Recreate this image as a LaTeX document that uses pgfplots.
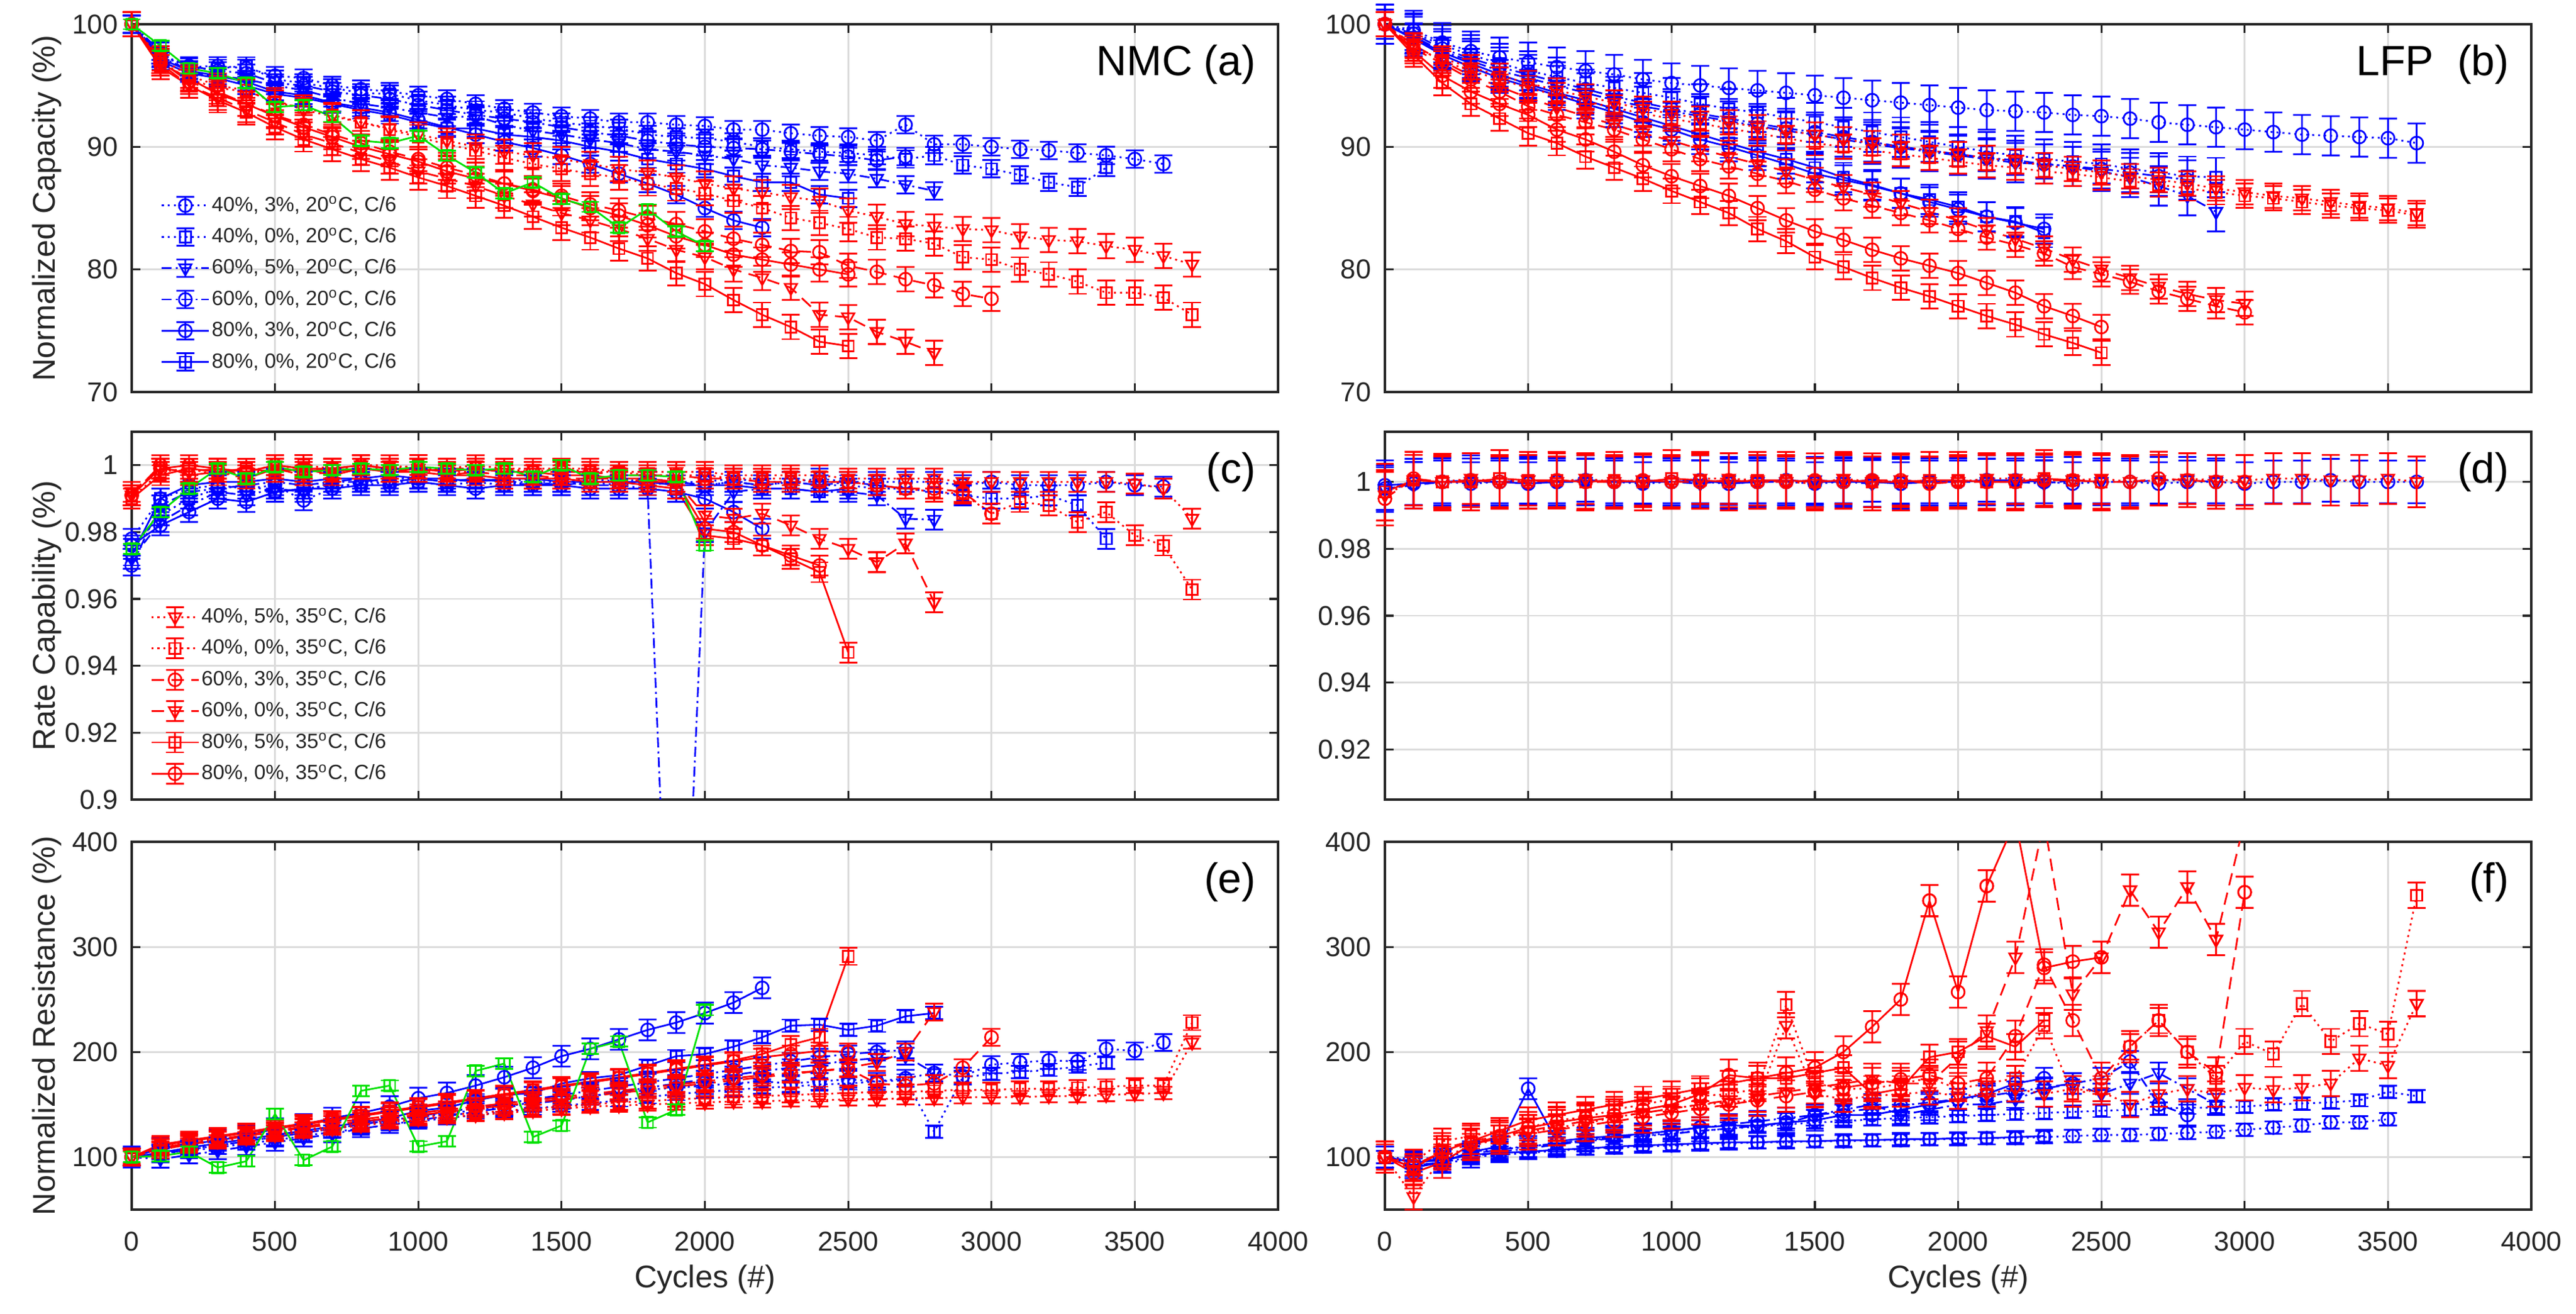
\documentclass[border=0pt]{standalone}
\usepackage{fontspec}
\setmainfont{Liberation Sans}
\usepackage{pgfplots}
\usepackage{pgfplotstable}
\pgfplotsset{compat=1.18}
\definecolor{axgray}{RGB}{38,38,38}
\definecolor{mgreen}{RGB}{0,225,0}

\def\ebh{3pt}
\def\ebw{3.6pt}
\tikzset{ebh/.code={\def\ebh{#1}}}
\def\ibar{%
  \pgfpathmoveto{\pgfqpoint{0pt}{-\ebh}}\pgfpathlineto{\pgfqpoint{0pt}{\ebh}}%
  \pgfpathmoveto{\pgfqpoint{-\ebw}{-\ebh}}\pgfpathlineto{\pgfqpoint{\ebw}{-\ebh}}%
  \pgfpathmoveto{\pgfqpoint{-\ebw}{\ebh}}\pgfpathlineto{\pgfqpoint{\ebw}{\ebh}}}
\pgfdeclareplotmark{Io}{\pgfpathcircle{\pgfpointorigin}{\pgfplotmarksize}\ibar\pgfusepathqstroke}
\pgfdeclareplotmark{Is}{\pgfpathrectangle{\pgfqpoint{-0.85\pgfplotmarksize}{-0.85\pgfplotmarksize}}{\pgfqpoint{1.7\pgfplotmarksize}{1.7\pgfplotmarksize}}\ibar\pgfusepathqstroke}
\pgfdeclareplotmark{Iv}{\pgfpathmoveto{\pgfqpoint{0pt}{-1.1\pgfplotmarksize}}\pgfpathlineto{\pgfqpoint{0.95\pgfplotmarksize}{0.6\pgfplotmarksize}}\pgfpathlineto{\pgfqpoint{-0.95\pgfplotmarksize}{0.6\pgfplotmarksize}}\pgfpathclose\ibar\pgfusepathqstroke}

\pgfplotstableread{
x b1 b2 b3 b4 b5 b6 r1 r2 r3 r4 r5 r6 g
0 100 100 100 100 100 100 100 100 100 100 100 100 100
100 97.5 97.3 97.8 97.5 97.2 97.0 97.0 97.2 97.0 96.8 96.5 96.8 98.25
200 96.5 96.3 96.0 96.6 96.2 96.0 95.5 95.8 95.3 95.0 95.0 95.6 96.4
300 96.6 96.4 95.8 96.2 95.8 95.6 94.8 95.0 94.5 94.0 93.8 94.3 96.0
400 96.4 96.6 95.5 96.0 95.3 95.0 94.5 94.6 93.5 93.0 92.8 93.5 95.2
500 95.8 95.5 95.0 95.2 94.5 94.3 93.8 93.6 92.6 92.0 91.6 92.5 93.25
600 95.6 95.2 94.6 95.0 94.2 94.0 93.0 93.2 91.8 91.0 90.6 91.6 93.4
700 95.0 94.8 94.0 94.5 93.6 93.5 92.5 92.6 91.0 90.3 89.8 90.8 92.45
800 94.7 94.4 93.5 94.2 93.2 93.0 92.0 92.0 90.3 89.5 89.0 90.0 90.5
900 94.5 94.3 93.2 93.9 92.8 92.6 91.5 91.4 89.6 88.8 88.3 89.4 90.3
1000 94.2 93.8 92.8 93.4 92.2 92.0 91.0 90.8 89.0 88.0 87.5 88.8 90.9
1100 93.9 93.4 92.4 93.0 91.6 91.5 90.5 90.2 88.3 87.4 86.8 88.0 89.3
1200 93.5 93.0 92.5 92.6 91.0 91.5 90.0 89.7 87.7 86.8 86.0 87.4 87.9
1300 93.1 92.8 91.8 92.3 90.4 91.0 89.6 89.1 87.0 86.0 85.2 87.0 86.2
1400 92.8 92.3 91.3 92.0 89.9 90.8 89.3 88.6 86.5 85.3 84.3 86.4 87.1
1500 92.5 92.0 91.0 91.6 89.3 90.5 89.0 88.2 86.0 84.6 83.4 85.8 85.75
1600 92.3 91.7 90.6 91.2 88.6 90.0 88.6 87.8 85.3 84.0 82.6 85.0 85.1
1700 92.0 91.5 90.3 90.9 87.8 89.6 88.2 87.5 84.8 83.3 81.7 84.4 83.4
1800 92.0 91.0 89.8 90.5 87.0 89.0 87.9 87.0 84.2 82.5 80.9 83.6 84.9
1900 91.8 90.8 89.6 90.2 86.1 88.6 87.5 86.6 83.7 81.6 79.7 82.7 83.1
2000 91.7 90.7 89.3 90.0 85.0 88.2 87.0 86.2 83.1 81.0 78.8 82.0 81.9
2100 91.4 90.4 89.0 89.9 84.0 87.6 86.6 85.6 82.5 80.0 77.5 81.2 nan
2200 91.4 90.0 88.5 89.8 83.4 87.1 86.3 85.0 82.0 79.3 76.3 80.8 nan
2300 91.1 89.8 88.3 89.6 nan 87.1 85.9 84.2 81.5 78.5 75.3 80.4 nan
2400 90.9 89.6 88.0 89.4 nan 86.1 85.6 83.8 81.4 76.3 74.1 80.0 nan
2500 90.8 89.5 87.8 89.2 nan 85.8 84.8 83.3 80.3 76.1 73.75 79.6 nan
2600 90.5 89.3 87.4 88.9 nan nan 84.3 82.6 79.8 74.9 nan nan nan
2700 91.8 89.0 86.9 89.2 nan nan 83.7 82.5 79.2 74.1 nan nan nan
2800 90.2 89.3 86.4 nan nan nan 83.5 82.1 78.7 73.2 nan nan nan
2900 90.2 88.5 nan nan nan nan 83.3 81.0 78.0 nan nan nan nan
3000 90.0 88.2 nan nan nan nan 83.2 80.8 77.6 nan nan nan nan
3100 89.8 87.7 nan nan nan nan 82.7 80.0 nan nan nan nan nan
3200 89.7 87.1 nan nan nan nan 82.4 79.6 nan nan nan nan nan
3300 89.5 86.7 nan nan nan nan 82.3 79.0 nan nan nan nan nan
3400 89.3 88.3 nan nan nan nan 81.9 78.1 nan nan nan nan nan
3500 89.0 nan nan nan nan nan 81.6 78.1 nan nan nan nan nan
3600 88.6 nan nan nan nan nan 81.1 77.7 nan nan nan nan nan
3700 nan nan nan nan nan nan 80.4 76.3 nan nan nan nan nan
}\tblA

\pgfplotstableread{
x b1 b2 b3 b4 b5 b6 r1 r2 r3 r4 r5 r6
0 100 100 100 100 100 100 100 100 100 100 100 100
100 99.5 99.3 99.0 99.2 98.8 98.9 98.0 98.2 98.0 98.3 97.5 97.8
200 98.5 98.3 97.8 98.0 97.5 97.7 97.2 97.0 96.8 97.0 95.2 95.8
300 97.8 97.5 97.0 97.2 96.5 96.8 96.5 96.2 95.5 95.8 93.5 94.5
400 97.3 96.8 96.2 96.5 95.6 95.9 95.8 95.5 94.5 94.9 92.3 93.5
500 96.9 96.2 95.6 95.9 94.9 95.1 95.2 94.8 93.3 94.0 91.1 92.6
600 96.5 95.7 95.0 95.3 94.2 94.4 94.6 94.2 92.6 93.2 90.3 91.4
700 96.2 95.2 94.4 94.7 93.5 93.8 94.1 93.7 92.0 92.5 89.2 90.6
800 95.9 94.8 93.8 94.1 92.8 93.1 93.6 93.2 91.4 91.8 88.3 89.6
900 95.5 94.4 93.3 93.6 92.0 92.4 93.1 92.7 90.6 91.1 87.4 88.5
1000 95.2 94.0 92.9 93.1 91.4 91.7 92.7 92.3 89.8 90.5 86.4 87.6
1100 95.0 93.5 92.5 92.7 90.6 91.0 92.3 91.9 89.0 89.8 85.5 86.8
1200 94.8 93.1 92.1 92.3 90.0 90.3 92.0 91.5 88.4 89.2 84.6 86.0
1300 94.6 92.8 91.7 91.9 89.3 89.6 91.6 91.1 87.8 88.6 83.3 85.0
1400 94.4 92.4 91.3 91.5 88.6 89.0 91.3 90.7 87.2 88.0 82.3 84.0
1500 94.2 92.0 91.0 91.2 87.8 88.3 91.0 90.3 86.5 87.3 81.0 83.1
1600 94.0 91.6 90.6 90.8 87.3 87.5 90.6 90.0 85.8 86.7 80.2 82.4
1700 93.8 91.2 90.2 90.4 86.8 86.9 90.3 89.7 85.2 86.1 79.3 81.6
1800 93.6 90.8 89.9 90.0 86.2 86.2 90.0 89.4 84.6 85.4 78.5 80.9
1900 93.4 90.4 89.6 89.7 85.5 85.7 89.7 89.1 84.0 84.7 77.8 80.3
2000 93.2 90.0 89.3 89.4 84.9 85.1 89.4 88.8 83.3 84.0 77.0 79.7
2100 93.0 89.6 89.0 89.1 84.3 84.3 89.1 88.5 82.6 83.2 76.2 78.9
2200 92.9 89.3 88.7 88.9 83.8 83.9 88.8 88.3 82.0 82.5 75.5 78.1
2300 92.8 89.0 88.6 88.6 83.3 83.0 88.5 88.0 81.3 81.7 74.7 77.0
2400 92.6 88.8 88.4 88.4 nan nan 88.2 87.8 80.2 80.8 74.0 76.2
2500 92.5 88.6 88.0 88.2 nan nan 87.9 87.5 79.6 80.0 73.2 75.3
2600 92.3 88.2 87.5 87.9 nan nan 87.6 87.2 79.0 79.3 nan nan
2700 92.0 87.9 86.8 87.6 nan nan 87.3 86.9 78.2 78.6 nan nan
2800 91.8 87.6 86.0 87.3 nan nan 87.0 86.6 77.6 78.0 nan nan
2900 91.6 87.5 84.7 nan nan nan 86.6 86.3 77.0 77.5 nan nan
3000 91.4 nan nan nan nan nan 86.3 86.0 76.5 77.2 nan nan
3100 91.2 nan nan nan nan nan 86.0 85.8 nan nan nan nan
3200 91.0 nan nan nan nan nan 85.8 85.5 nan nan nan nan
3300 90.9 nan nan nan nan nan 85.5 85.2 nan nan nan nan
3400 90.8 nan nan nan nan nan 85.2 85.0 nan nan nan nan
3500 90.7 nan nan nan nan nan 85.0 84.8 nan nan nan nan
3600 90.3 nan nan nan nan nan 84.6 84.4 nan nan nan nan
}\tblB

\pgfplotstableread{
x b1 b2 b3 b4 b5 b6 r1 r2 r3 r4 r5 r6 g
0 .978 .975 .972 .970 .976 .973 .991 .990 .991 .992 .990 .991 .975
100 .990 .985 .983 .988 .982 .990 .999 .998 1.000 .999 .997 .999 .986
200 .993 .990 .988 .992 .986 .994 .998 .999 .997 .998 .999 1.000 .993
300 .994 .993 .992 .993 .990 .995 .999 .997 .998 .999 .998 .999 .999
400 .993 .994 .991 .994 .989 .995 .998 .998 .996 .997 .999 .998 .996
500 .994 .992 .993 .995 .992 .996 1.000 .998 .999 .999 .998 1.000 .9995
600 .9895 .993 .992 .994 .993 .995 .999 1.000 .998 .997 .999 .999 .998
700 .993 .994 .995 .995 .993 .996 .999 .999 .999 .998 .997 .999 .9985
800 .995 .994 .996 .995 .994 .996 1.000 .999 1.000 .999 .999 1.000 .999
900 .995 .995 .995 .996 .994 .997 1.000 .999 .999 .998 .998 .999 .9985
1000 .996 .995 .996 .996 .995 .996 .999 1.000 .998 .999 .998 .999 .9995
1100 .995 .994 .995 .995 .994 .996 .999 .998 .999 .997 .997 .998 .999
1200 .996 .995 .996 .996 .993 .995 1.000 .998 .999 .998 .997 .999 .9985
1300 .995 .994 .995 .995 .994 .996 .999 .999 .998 .997 .996 .998 .999
1400 .996 .995 .994 .995 .994 .996 .999 .998 .998 .997 .996 .998 .9965
1500 .995 .995 .995 .994 .994 .995 .999 .999 .998 .996 .996 .997 1.000
1600 .996 .995 .994 .995 .993 .995 .999 .998 .998 .996 .995 .997 .996
1700 .995 .994 .994 .995 .993 .995 .998 .998 .997 .996 .995 .996 .997
1800 .996 .995 .993 .994 .993 .995 .998 .997 .997 .995 .994 .996 .997
1900 .995 .995 .785 .995 .992 .994 .998 .997 .997 .995 .993 .995 .9965
2000 .995 .994 .980 .994 .990 .994 .998 .997 .996 .985 .979 .981 .976
2100 .996 .995 .992 .995 .986 .994 .997 .996 .996 .984 .978 .980 nan
2200 .995 .994 .993 .994 .981 .993 .997 .996 .995 .9855 .976 .976 nan
2300 .995 .995 .993 .995 nan .993 .997 .996 .995 .982 .972 .973 nan
2400 .996 .994 .992 .994 nan .992 .997 .995 .995 .978 .968 .970 nan
2500 .995 .994 .992 .995 nan .993 .996 .995 .995 .975 .944 nan nan
2600 .995 .993 .991 .994 nan nan .996 .994 .994 .971 nan nan nan
2700 .995 .993 .984 .993 nan nan .996 .993 .993 .9766 nan nan nan
2800 .995 .992 .9837 nan nan nan .996 .992 .993 .959 nan nan nan
2900 .994 .991 nan nan nan nan .995 .9915 .992 nan nan nan nan
3000 .995 .990 nan nan nan nan .995 .9855 .9855 nan nan nan nan
3100 .994 .990 nan nan nan nan .995 .989 nan nan nan nan nan
3200 .994 .991 nan nan nan nan .995 .988 nan nan nan nan nan
3300 .994 .988 nan nan nan nan .995 .983 nan nan nan nan nan
3400 .995 .978 nan nan nan nan .995 .986 nan nan nan nan nan
3500 .994 nan nan nan nan nan .9945 .979 nan nan nan nan nan
3600 .9936 nan nan nan nan nan .993 .976 nan nan nan nan nan
3700 nan nan nan nan nan nan .984 .9628 nan nan nan nan nan
}\tblC

\pgfplotstableread{
x b1 b3 b5 r1 r3 r5
0 .998 .998 .999 .996 .995 .997
100 .9995 .999 .9995 1.0005 1.001 1.0005
200 1.000 1.000 1.000 1.000 1.000 1.000
300 .9995 1.000 1.0005 1.001 1.0005 1.000
400 1.000 1.000 1.000 1.000 1.000 1.001
500 .9995 1.0005 .9995 1.0005 1.000 1.0005
600 1.000 1.000 1.000 1.000 1.0005 1.0005
700 1.0005 1.000 1.0005 1.001 1.000 1.000
800 1.000 1.000 1.000 1.000 1.000 1.0005
900 .9995 1.0005 1.000 1.0005 1.0005 1.000
1000 1.000 1.000 1.000 1.000 1.000 1.001
1100 1.000 .9995 1.0005 1.001 1.000 1.0005
1200 .9995 1.0005 .9995 1.001 1.0005 1.000
1300 1.000 1.000 1.000 1.0005 1.000 1.0005
1400 1.000 1.000 1.0005 1.000 1.000 1.0005
1500 .9995 1.0005 1.000 .9995 1.0005 1.000
1600 1.000 1.000 1.000 1.001 1.000 1.0005
1700 1.0005 .9995 1.000 1.000 1.0005 1.000
1800 .9995 1.0005 .9995 1.0005 1.0005 1.000
1900 1.000 1.000 1.000 1.000 .9995 1.0005
2000 1.000 1.000 1.000 1.000 1.000 1.0005
2100 1.0005 1.000 1.0005 1.001 1.000 1.000
2200 1.000 1.000 1.0005 1.001 1.000 1.000
2300 1.000 .9995 1.000 1.0005 1.0005 1.001
2400 .9995 1.0005 nan 1.0005 1.0005 1.0005
2500 1.000 1.000 nan 1.001 1.000 1.000
2600 1.000 1.000 nan 1.000 1.000 nan
2700 .9995 1.0005 nan 1.0005 1.001 nan
2800 1.000 1.0005 nan 1.001 1.0005 nan
2900 1.000 1.000 nan 1.0005 1.000 nan
3000 .9995 nan nan 1.0005 1.000 nan
3100 1.000 nan nan 1.001 nan nan
3200 1.000 nan nan 1.001 nan nan
3300 1.0005 nan nan 1.0005 nan nan
3400 1.000 nan nan 1.0005 nan nan
3500 1.000 nan nan 1.001 nan nan
3600 1.000 nan nan 1.000 nan nan
}\tblD

\pgfplotstableread{
x b1 b2 b3 b4 b5 b6 r1 r2 r3 r4 r5 r6 g
0 100 100 100 100 100 100 100 100 100 100 100 100 100
100 104 102 98 103 108 104 108 110 109 107 112 111 101
200 108 106 102 107 112 109 112 114 113 112 116 115 105
300 111 109 106 111 116 113 115 117 117 116 120 119 90
400 115 113 110 115 120 117 118 120 121 120 124 123 96
500 119 116 114 119 127 121 121 123 125 124 128 127 141
600 123 120 118 123 131 125 124 126 129 128 132 131 97
700 127 124 122 127 137 129 127 129 133 131 136 135 110
800 131 127 127 131 142 133 130 132 136 134 140 139 163
900 134 131 131 135 148 137 133 135 139 137 144 143 168
1000 138 134 135 139 156 144 136 138 142 140 148 147 110
1100 141 137 139 143 161 147 138 140 145 143 152 151 115
1200 145 140 143 147 168 154 140 142 148 146 156 155 182
1300 148 143 147 151 176 159 142 144 151 149 160 159 189
1400 152 146 151 155 185 161 144 146 154 152 164 163 119
1500 155 149 154 159 196 170 146 148 157 155 168 167 130
1600 158 151 158 163 203 175 148 150 160 158 172 171 203
1700 161 154 162 167 212 178 149 152 163 161 176 175 210
1800 164 157 166 171 221 187 150 153 166 164 180 179 133
1900 166 160 170 175 228 196 151 155 169 167 184 183 145
2000 168 162 174 179 237 198 152 156 172 170 188 187 240
2100 170 164 178 183 247 205 153 157 175 173 192 191 nan
2200 172 166 182 187 261 214 153 158 178 176 198 195 nan
2300 170 167 185 191 nan 225 154 159 180 179 207 198 nan
2400 172 169 188 195 nan 226 154 160 182 182 214 201 nan
2500 174 170 192 198 nan 221 155 161 184 185 291 200 nan
2600 172 172 194 200 nan 225 155 162 170 190 nan nan nan
2700 175 173 196 202 nan 234 156 162 168 200 nan nan nan
2800 180 124 180 nan nan 237 156 163 170 238 nan nan nan
2900 177 176 nan nan nan nan 157 164 185 nan nan nan nan
3000 188 179 nan nan nan nan 157 164 214 nan nan nan nan
3100 190 181 nan nan nan nan 157 165 nan nan nan nan nan
3200 192 183 nan nan nan nan 158 165 nan nan nan nan nan
3300 191 186 nan nan nan nan 158 166 nan nan nan nan nan
3400 203 190 nan nan nan nan 159 167 nan nan nan nan nan
3500 201 nan nan nan nan nan 160 168 nan nan nan nan nan
3600 209 nan nan nan nan nan 161 168 nan nan nan nan nan
3700 nan nan nan nan nan nan 209 228 nan nan nan nan nan
}\tblE

\pgfplotstableread{
x b1 b2 b3 b4 b5 b6 r1 r2 r3 r4 r5 r6
0 100 100 100 100 100 100 100 100 100 100 100 100
100 95 98 92 96 90 95 62 95 92 88 90 85
200 92 100 95 98 95 97 100 115 105 108 105 95
300 100 105 100 103 105 102 110 120 112 115 115 112
400 102 108 105 107 110 104 118 125 118 120 125 120
500 104 110 108 110 165 105 124 128 122 125 135 128
600 106 113 112 113 115 107 128 135 126 130 140 133
700 108 116 115 116 118 108 132 138 130 134 145 137
800 109 118 118 119 120 110 138 145 134 138 150 140
900 110 120 120 122 122 111 142 150 138 142 155 145
1000 111 123 122 125 125 112 146 155 142 146 160 150
1100 112 125 125 128 128 113 150 158 146 150 165 160
1200 113 127 127 131 130 114 152 160 150 154 170 178
1300 114 129 130 134 130 114 155 165 154 158 175 175
1400 114 131 132 137 133 115 225 245 158 162 175 180
1500 115 133 140 140 135 115 160 170 162 166 180 185
1600 115 134 145 143 140 116 155 165 166 170 185 200
1700 116 136 150 146 140 116 158 165 170 174 160 224
1800 116 137 140 149 145 117 160 170 174 170 165 250
1900 117 138 145 152 150 117 162 175 178 170 195 344
2000 117 139 150 155 155 118 158 165 170 195 200 257
2100 118 140 150 158 160 118 160 170 175 220 215 358
2200 118 141 155 162 170 119 165 175 215 290 205 420
2300 119 142 165 166 175 120 160 225 283 420 230 280
2400 120 143 170 170 nan nan 165 160 230 255 nan 286
2500 121 144 160 175 nan nan 162 165 175 290 nan 290
2600 121 145 170 191 nan nan 150 205 205 354 nan nan
2700 122 146 180 150 nan nan 160 230 230 314 nan nan
2800 123 147 165 140 nan nan 165 200 200 357 nan nan
2900 124 147 150 nan nan nan 160 175 180 307 nan nan
3000 126 148 nan nan nan nan 166 210 352 420 nan nan
3100 128 150 nan nan nan nan 164 198 nan nan nan nan
3200 130 151 nan nan nan nan 166 246 nan nan nan nan
3300 133 152 nan nan nan nan 170 210 nan nan nan nan
3400 133 154 nan nan nan nan 194 227 nan nan nan nan
3500 136 162 nan nan nan nan 187 217 nan nan nan nan
3600 nan 158 nan nan nan nan 246 349 nan nan nan nan
}\tblF

\pgfplotsset{
  panel/.style={scale only axis, width=461.25pt, height=148pt, anchor=south west,
    xmin=0, xmax=4000, xtick={0,500,...,4000},
    grid=major, major grid style={draw=black!14, line width=0.7pt},
    axis line style={draw=axgray, line width=0.8pt},
    tick style={draw=axgray, line width=0.8pt},
    major tick length=3.6pt, tick align=inside, tick pos=both,
    tick label style={font=\fontsize{11}{13}\selectfont, text=axgray},
    /pgf/number format/assume math mode=true, /pgf/number format/1000 sep={},
    scaled ticks=false,
    xticklabel style={yshift=-5.5pt},
    yticklabel style={xshift=-2pt},
    ylabel style={font=\fontsize{12.6}{15}\selectfont, text=axgray, inner sep=0pt,
      at={(axis description cs:-0.0607,0.5)}, anchor=south},
    xlabel style={font=\fontsize{12.6}{15}\selectfont, text=axgray, inner sep=0pt,
      at={(axis description cs:0.5,0)}, anchor=north, yshift=-22pt},
    legend image code/.code={
      \draw[mark repeat=2, mark phase=2, #1] plot coordinates {(0pt,0pt) (9.5pt,0pt) (19pt,0pt)};
    },
    error bars/error bar style={solid, line width=0.7pt},
    error bars/error mark options={rotate=90, mark size=3.6pt, line width=0.7pt, solid},
  },
  capy/.style={ymin=70, ymax=100, ytick={70,80,90,100}},
  ratey/.style={ytick={0.9,0.92,0.94,0.96,0.98,1}, /pgf/number format/fixed, /pgf/number format/precision=2},
  resy/.style={ymin=50, ymax=400, ytick={100,200,300,400}},
  noxl/.style={xticklabels={}},
  leg/.style={legend style={draw=none, fill=none, at={#1}, anchor=north west, inner sep=0pt,
      font=\fontsize{8.3}{9.5}\selectfont, text=axgray, row sep=3.2pt,
      nodes={inner sep=0.8pt, text height=6.2pt, text depth=1.6pt}}, legend cell align=left},
  sty/.style={line width=0.7pt, mark size=2.6pt},
  dotl/.style={dash pattern=on 0.8pt off 1.6pt},
  dashl/.style={dash pattern=on 5pt off 3pt},
  ddotl/.style={dash pattern=on 4pt off 1.6pt on 0.8pt off 1.6pt},
  bA/.style={sty, blue, dotl, mark=Io},
  bB/.style={sty, blue, dotl, mark=Is},
  bC/.style={sty, blue, ddotl, mark=Iv},
  bD/.style={sty, blue, ddotl, mark=Io},
  bE/.style={sty, blue, solid, mark=Io},
  bF/.style={sty, blue, solid, mark=Is},
  rA/.style={sty, red, dotl, mark=Iv},
  rB/.style={sty, red, dotl, mark=Is},
  rC/.style={sty, red, dashl, mark=Io},
  rD/.style={sty, red, dashl, mark=Iv},
  rE/.style={sty, red, solid, mark=Is},
  rF/.style={sty, red, solid, mark=Io},
  gG/.style={sty, mgreen, solid, mark=Is},
  xbar/.style={only marks, forget plot, error bars/.cd, y dir=both, y explicit},
}
\newcommand{\ser}[4]{\addplot[#1, mark options={solid, ebh=#4}] table[x=x, y=#3] {#2};}
\newcommand{\sef}[4]{\addplot[#1, forget plot, mark options={solid, ebh=#4}] table[x=x, y=#3] {#2};}
\newcommand{\plab}[1]{\node[anchor=east, font=\fontsize{17}{20}\selectfont, inner sep=0pt] at (rel axis cs:0.981,0.89) {#1};}
\newcommand{\dg}{\textsuperscript{o}}

\begin{document}
\begin{tikzpicture}
\path[use as bounding box] (0,0) rectangle (1036.5pt,528.75pt);

% (a)
\begin{axis}[panel, capy, noxl, at={(53pt,371pt)}, ylabel={Normalized Capacity (\%)}, leg={(axis description cs:0.025,0.54)}]
\ser{bA}{\tblA}{b1}{3.5pt}\addlegendentry{40\%, 3\%, 20\dg C, C/6}
\ser{bB}{\tblA}{b2}{3.5pt}\addlegendentry{40\%, 0\%, 20\dg C, C/6}
\ser{bC}{\tblA}{b3}{3.5pt}\addlegendentry{60\%, 5\%, 20\dg C, C/6}
\ser{bD}{\tblA}{b4}{3.5pt}\addlegendentry{60\%, 0\%, 20\dg C, C/6}
\ser{bE}{\tblA}{b5}{3.5pt}\addlegendentry{80\%, 3\%, 20\dg C, C/6}
\ser{bF}{\tblA}{b6}{3.5pt}\addlegendentry{80\%, 0\%, 20\dg C, C/6}
\sef{rA}{\tblA}{r1}{4.9pt}
\sef{rB}{\tblA}{r2}{4.9pt}
\sef{rC}{\tblA}{r3}{4.9pt}
\sef{rD}{\tblA}{r4}{4.9pt}
\sef{rE}{\tblA}{r5}{4.9pt}
\sef{rF}{\tblA}{r6}{4.9pt}
\addplot[rE, mark options={solid, ebh=4.9pt}, xbar] coordinates {(2500,73.75) +- (0,2.5) (2400,74.1) +- (0,2.0)};
\addplot[rD, mark options={solid, ebh=4.9pt}, xbar] coordinates {(2800,73.2) +- (0,2.8) (2700,74.1) +- (0,2.5) (2600,74.9) +- (0,2.2)};
\addplot[rB, mark options={solid, ebh=4.9pt}, xbar] coordinates {(3700,76.3) +- (0,2.5) (3600,77.7) +- (0,1.8)};
\sef{gG}{\tblA}{g}{2pt}
\plab{NMC (a)}
\end{axis}

% (b)
\begin{axis}[panel, capy, noxl, at={(557.25pt,371pt)}]
\sef{bA}{\tblB}{b1}{7.9pt}
\sef{bB}{\tblB}{b2}{7.9pt}
\sef{bC}{\tblB}{b3}{7.9pt}
\sef{bD}{\tblB}{b4}{7.9pt}
\sef{bE}{\tblB}{b5}{5.9pt}
\sef{bF}{\tblB}{b6}{5.9pt}
\addplot[bC, mark options={solid, ebh=7.9pt}, xbar] coordinates {(2900,84.7) +- (0,2.8) (2800,86.0) +- (0,3.0) (2700,86.8) +- (0,3.0)};
\sef{rA}{\tblB}{r1}{4.9pt}
\sef{rB}{\tblB}{r2}{4.9pt}
\sef{rC}{\tblB}{r3}{4.9pt}
\sef{rD}{\tblB}{r4}{4.9pt}
\sef{rE}{\tblB}{r5}{4.9pt}
\sef{rF}{\tblB}{r6}{4.9pt}
\plab{LFP~~(b)}
\end{axis}

% (c)
\begin{axis}[panel, ratey, noxl, ymin=0.9, ymax=1.01, at={(53pt,207pt)}, ylabel={Rate Capability (\%)}, leg={(axis description cs:0.016,0.529)}]
\sef{bA}{\tblC}{b1}{4pt}
\sef{bB}{\tblC}{b2}{4pt}
\sef{bC}{\tblC}{b3}{4pt}
\sef{bD}{\tblC}{b4}{4pt}
\sef{bE}{\tblC}{b5}{4pt}
\sef{bF}{\tblC}{b6}{4pt}
\addplot[bE, mark options={solid, ebh=4pt}, xbar] coordinates {(1900,0.992) +- (0,0.2)};
\ser{rA}{\tblC}{r1}{4pt}\addlegendentry{40\%, 5\%, 35\dg C, C/6}
\ser{rB}{\tblC}{r2}{4pt}\addlegendentry{40\%, 0\%, 35\dg C, C/6}
\ser{rC}{\tblC}{r3}{4pt}\addlegendentry{60\%, 3\%, 35\dg C, C/6}
\ser{rD}{\tblC}{r4}{4pt}\addlegendentry{60\%, 0\%, 35\dg C, C/6}
\ser{rE}{\tblC}{r5}{4pt}\addlegendentry{80\%, 5\%, 35\dg C, C/6}
\ser{rF}{\tblC}{r6}{4pt}\addlegendentry{80\%, 0\%, 35\dg C, C/6}
\addplot[rE, mark options={solid, ebh=4pt}, xbar] coordinates {(2500,0.944) +- (0,0.034) (2400,0.968) +- (0,0.02) (2300,0.972) +- (0,0.018) (2200,0.976) +- (0,0.014)};
\addplot[rD, mark options={solid, ebh=4pt}, xbar] coordinates {(2800,0.959) +- (0,0.015) (2700,0.9766) +- (0,0.01) (2600,0.971) +- (0,0.011)};
\addplot[rB, mark options={solid, ebh=4pt}, xbar] coordinates {(3700,0.9628) +- (0,0.02) (3600,0.976) +- (0,0.015) (3500,0.979) +- (0,0.013) (3300,0.983) +- (0,0.009)};
\sef{gG}{\tblC}{g}{2pt}
\addplot[gG, mark options={solid, ebh=2pt}, xbar] coordinates {(2000,0.976) +- (0,0.01)};
\plab{(c)}
\end{axis}

% (d)
\begin{axis}[panel, ratey, noxl, ymin=0.905, ymax=1.015, at={(557.25pt,207pt)}]
\sef{bA}{\tblD}{b1}{8.6pt}
\sef{bC}{\tblD}{b3}{9.4pt}
\sef{bE}{\tblD}{b5}{10pt}
\sef{rA}{\tblD}{r1}{10.2pt}
\sef{rC}{\tblD}{r3}{10.8pt}
\sef{rE}{\tblD}{r5}{11.4pt}
\plab{(d)}
\end{axis}

% (e)
\begin{axis}[panel, resy, at={(53pt,42pt)}, ylabel={Normalized Resistance (\%)}, xlabel={Cycles (\#)}]
\sef{bA}{\tblE}{b1}{3.4pt}
\sef{bB}{\tblE}{b2}{2.5pt}
\sef{bC}{\tblE}{b3}{3.4pt}
\sef{bD}{\tblE}{b4}{3.4pt}
\sef{bE}{\tblE}{b5}{4.2pt}
\sef{bF}{\tblE}{b6}{2.5pt}
\sef{rA}{\tblE}{r1}{2.5pt}
\sef{rB}{\tblE}{r2}{3pt}
\sef{rC}{\tblE}{r3}{3.4pt}
\sef{rD}{\tblE}{r4}{3.4pt}
\sef{rE}{\tblE}{r5}{3.4pt}
\sef{rF}{\tblE}{r6}{3.4pt}
\addplot[rE, mark options={solid, ebh=3.4pt}, xbar] coordinates {(2500,291) +- (0,35)};
\sef{gG}{\tblE}{g}{2.1pt}
\plab{(e)}
\end{axis}

% (f)
\begin{axis}[panel, resy, at={(557.25pt,42pt)}, xlabel={Cycles (\#)}]
\sef{bA}{\tblF}{b1}{2.5pt}
\sef{bB}{\tblF}{b2}{2.5pt}
\sef{bC}{\tblF}{b3}{4.2pt}
\sef{bD}{\tblF}{b4}{4.2pt}
\sef{bE}{\tblF}{b5}{4.2pt}
\sef{bF}{\tblF}{b6}{2.5pt}
\sef{rA}{\tblF}{r1}{5.1pt}
\sef{rB}{\tblF}{r2}{5.1pt}
\sef{rC}{\tblF}{r3}{6.3pt}
\sef{rD}{\tblF}{r4}{6.3pt}
\sef{rE}{\tblF}{r5}{5.1pt}
\sef{rF}{\tblF}{r6}{6.3pt}
\addplot[rF, mark options={solid, ebh=6.3pt}, xbar] coordinates {(0,100) +- (0,400) (1900,344) +- (0,25) (2100,358) +- (0,50)};
\addplot[rC, mark options={solid, ebh=6.3pt}, xbar] coordinates {(3000,352) +- (0,90)};
\addplot[rB, mark options={solid, ebh=5.1pt}, xbar] coordinates {(3600,349) +- (0,30)};
\addplot[rA, mark options={solid, ebh=5.1pt}, xbar] coordinates {(3600,246) +- (0,45)};
\addplot[rD, mark options={solid, ebh=6.3pt}, xbar] coordinates {(2600,354) +- (0,35) (2800,357) +- (0,35) (2900,307) +- (0,45)};
\plab{(f)}
\end{axis}
\end{tikzpicture}
\end{document}
